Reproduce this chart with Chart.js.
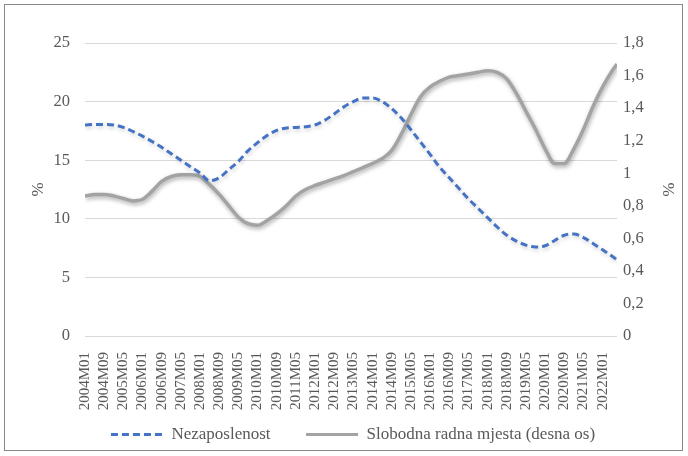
<!DOCTYPE html>
<html><head><meta charset="utf-8">
<script src="https://cdn.jsdelivr.net/npm/chart.js@4"></script>
<style>
html,body{margin:0;padding:0;background:#fff;}
#wrap{position:relative;width:688px;height:456px;overflow:hidden;}
#frame{position:absolute;left:4px;top:4px;width:677px;height:445px;border:1.5px solid #878787;pointer-events:none;}
canvas{position:absolute;left:0;top:0;}
</style></head><body>
<div id="wrap"><canvas id="c" width="688" height="456"></canvas><div id="frame"></div></div>
<script>
// Tick labels shown on the category axis (every 8 months)
const tickLabels = ["2004M01","2004M09","2005M05","2006M01","2006M09","2007M05","2008M01","2008M09","2009M05","2010M01","2010M09","2011M05","2012M01","2012M09","2013M05","2014M01","2014M09","2015M05","2016M01","2016M09","2017M05","2018M01","2018M09","2019M05","2020M01","2020M09","2021M05","2022M01"];
const sampleDates = ["2004M01","2004M05","2004M09","2005M01","2005M05","2005M09","2006M01","2006M05","2006M09","2007M01","2007M05","2007M09","2008M01","2008M05","2008M09","2009M01","2009M05","2009M09","2010M01","2010M05","2010M09","2011M01","2011M05","2011M09","2012M01","2012M05","2012M09","2013M01","2013M05","2013M09","2014M01","2014M05","2014M09","2015M01","2015M05","2015M09","2016M01","2016M05","2016M09","2017M01","2017M05","2017M09","2018M01","2018M05","2018M09","2019M01","2019M05","2019M09","2020M01","2020M05","2020M09","2021M01","2021M05","2021M09","2022M01","2022M05","2022M07"];
// Nezaposlenost (%; left axis)
const unemployment = [18.0,18.05,18.05,18.0,17.8,17.45,17.05,16.6,16.1,15.55,15.0,14.45,13.9,13.25,13.5,14.2,14.9,15.8,16.5,17.1,17.55,17.75,17.8,17.85,18.0,18.4,18.95,19.55,20.0,20.3,20.3,20.0,19.4,18.6,17.6,16.55,15.5,14.4,13.5,12.6,11.7,10.9,10.1,9.3,8.6,8.1,7.75,7.6,7.7,8.15,8.6,8.7,8.4,7.9,7.35,6.8,6.5];
// Slobodna radna mjesta (%; right axis)
const vacancies = [0.86,0.87,0.87,0.86,0.845,0.83,0.84,0.89,0.95,0.98,0.99,0.99,0.98,0.93,0.87,0.80,0.73,0.69,0.68,0.71,0.75,0.80,0.86,0.90,0.925,0.945,0.965,0.985,1.01,1.035,1.06,1.09,1.14,1.24,1.36,1.47,1.53,1.565,1.59,1.60,1.61,1.62,1.63,1.62,1.58,1.49,1.38,1.27,1.15,1.06,1.06,1.15,1.27,1.41,1.53,1.63,1.67];

const seriesNames = ["Nezaposlenost", "Slobodna radna mjesta (desna os)"];

function monthIndex(s) {
  const y = parseInt(s.slice(0, 4), 10);
  const m = parseInt(s.slice(5), 10);
  return (y - 2004) * 12 + (m - 1);
}
const xs = sampleDates.map(monthIndex);
const lastX = xs[xs.length - 1];

const FONT = "'Liberation Serif','Times New Roman',serif";
const TXT = '#595959';

const shadowPlugin = {
  id: 'shadow',
  beforeDatasetDraw(chart, args) {
    const ctx = chart.ctx;
    ctx.save();
    ctx.shadowColor = args.index === 1 ? 'rgba(0,0,0,0.35)' : 'rgba(0,0,0,0.2)';
    ctx.shadowBlur = 4;
    ctx.shadowOffsetX = 1;
    ctx.shadowOffsetY = 2;
  },
  afterDatasetDraw(chart) {
    chart.ctx.restore();
  }
};

new Chart(document.getElementById('c'), {
  type: 'line',
  data: {
    datasets: [
      {
        label: seriesNames[0],
        data: xs.map((x, i) => ({ x, y: unemployment[i] })),
        borderColor: '#4472C4',
        backgroundColor: '#4472C4',
        borderWidth: 3,
        borderDash: [7, 4],
        pointRadius: 0,
        cubicInterpolationMode: 'monotone',
        yAxisID: 'y',
        order: 1
      },
      {
        label: seriesNames[1],
        data: xs.map((x, i) => ({ x, y: vacancies[i] })),
        borderColor: '#a3a3a3',
        backgroundColor: '#a3a3a3',
        borderWidth: 3.5,
        borderDash: [],
        pointRadius: 0,
        cubicInterpolationMode: 'monotone',
        yAxisID: 'y2',
        order: 2
      }
    ]
  },
  options: {
    responsive: false,
    animation: false,
    devicePixelRatio: 1,
    layout: { padding: { top: 43, left: 28, right: 10, bottom: 3 } },
    plugins: {
      tooltip: { enabled: false },
      legend: {
        position: 'bottom',
        labels: {
          usePointStyle: true,
          pointStyle: 'line',
          pointStyleWidth: 52,
          padding: 10,
          color: TXT,
          font: { family: FONT, size: 17 },
          generateLabels(chart) {
            const items = Chart.defaults.plugins.legend.labels.generateLabels(chart);
            return items.map((it, i) => {
              it.lineDash = chart.data.datasets[it.datasetIndex].borderDash || [];
              it.lineWidth = 3;
              if (i === 0) it.text = it.text + '      ';
              return it;
            });
          }
        }
      }
    },
    scales: {
      x: {
        type: 'linear',
        min: 0,
        max: lastX,
        grid: { display: false },
        border: { display: false },
        ticks: {
          stepSize: 8,
          includeBounds: false,
          autoSkip: false,
          maxRotation: 90,
          minRotation: 90,
          padding: 8,
          color: TXT,
          font: { family: FONT, size: 15 },
          callback: (v) => (v % 8 === 0 && tickLabels[v / 8]) ? tickLabels[v / 8] : ''
        },
        afterFit(s) { s.height = 80; }
      },
      y: {
        position: 'left',
        min: 0,
        max: 25,
        grid: { color: '#d9d9d9', lineWidth: 1, drawTicks: false },
        border: { display: false },
        ticks: { stepSize: 5, padding: 15, color: TXT, font: { family: FONT, size: 16.5 } },
        title: { display: true, text: '%', color: TXT, font: { family: FONT, size: 17 }, padding: 0 },
        afterFit(s) { s.width = 57; }
      },
      y2: {
        position: 'right',
        min: 0,
        max: 1.8,
        grid: { display: false, drawTicks: false },
        border: { display: false },
        ticks: {
          stepSize: 0.2,
          padding: 6,
          color: TXT,
          font: { family: FONT, size: 16.5 },
          callback: (v) => String(Math.round(v * 10) / 10).replace('.', ',')
        },
        title: { display: true, text: '%', color: TXT, font: { family: FONT, size: 17 }, padding: 0 },
        afterFit(s) { s.width = 61; }
      }
    }
  },
  plugins: [shadowPlugin]
});
</script>
</body></html>
